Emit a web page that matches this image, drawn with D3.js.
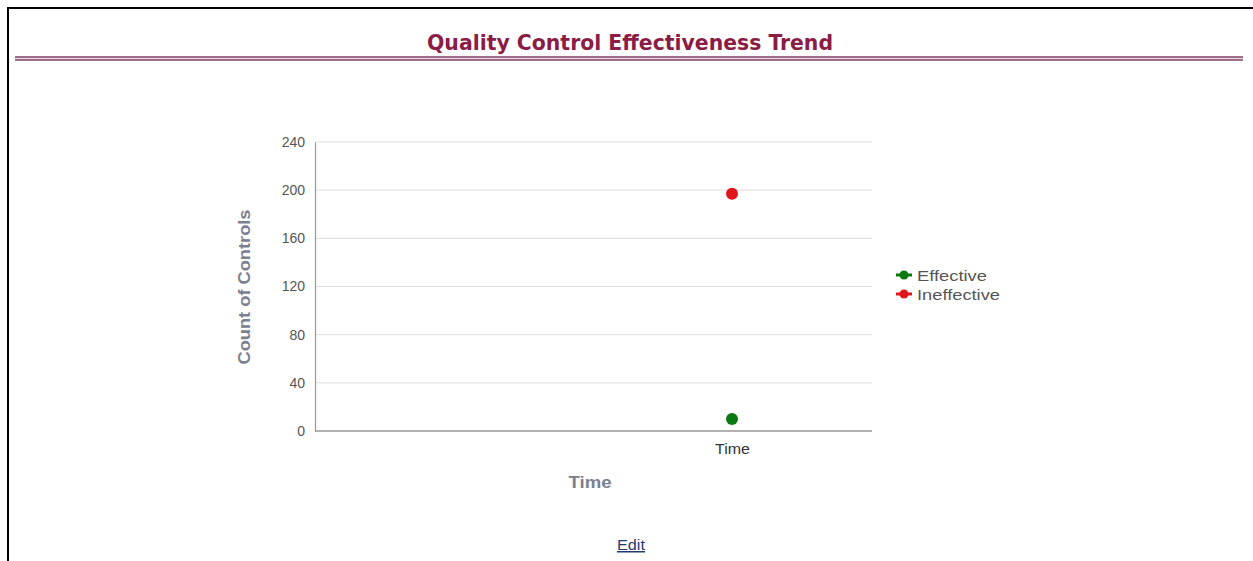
<!DOCTYPE html>
<html>
<head>
<meta charset="utf-8">
<script src="https://cdn.jsdelivr.net/npm/d3@7"></script>
<style>
  html, body { margin: 0; padding: 0; background: #fff; }
  svg { display: block; }
</style>
</head>
<body>
<svg id="chart" width="1253" height="561"></svg>
<script>
const categories = ["Time"];
const seriesNames = ["Effective", "Ineffective"];
const effectiveValues = [10];
const ineffectiveValues = [197];
const yTicks = [0, 40, 80, 120, 160, 200, 240];
const seriesColors = ["#0b7a12", "#e0161c"];

const svg = d3.select("#chart");
const W = 1253, H = 561;
const FONT = "Arial, 'Liberation Sans', sans-serif";

// frame
svg.append("line").attr("x1", 7).attr("x2", W).attr("y1", 8).attr("y2", 8)
  .attr("stroke", "#000").attr("stroke-width", 2);
svg.append("line").attr("x1", 8).attr("x2", 8).attr("y1", 7).attr("y2", H)
  .attr("stroke", "#000").attr("stroke-width", 2);

// title
svg.append("text").attr("x", 630).attr("y", 50)
  .attr("text-anchor", "middle")
  .attr("font-family", "'Liberation Sans Narrow', 'DejaVu Sans Condensed', Arial, sans-serif")
  .attr("font-weight", "bold").attr("font-size", 22)
  .attr("fill", "#8a1c45")
  .attr("textLength", 406).attr("lengthAdjust", "spacingAndGlyphs")
  .text("Quality Control Effectiveness Trend");

// double rule under title
svg.append("rect").attr("x", 15).attr("y", 56.5).attr("width", 1228).attr("height", 4)
  .attr("fill", "#f2d6e2");
svg.append("line").attr("x1", 15).attr("x2", 1243).attr("y1", 57).attr("y2", 57)
  .attr("stroke", "#7f4a6a").attr("stroke-width", 1.3);
svg.append("line").attr("x1", 15).attr("x2", 1243).attr("y1", 60).attr("y2", 60)
  .attr("stroke", "#7f4a6a").attr("stroke-width", 1.3);

// scales
const plotLeft = 315, plotRight = 872, plotTop = 142, plotBottom = 431;
const y = d3.scaleLinear().domain([0, 240]).range([plotBottom, plotTop]);
const x = d3.scalePoint().domain(categories).range([592, plotRight]);

// gridlines
svg.append("g").selectAll("line").data(yTicks.filter(d => d > 0)).join("line")
  .attr("x1", plotLeft).attr("x2", plotRight)
  .attr("y1", d => y(d)).attr("y2", d => y(d))
  .attr("stroke", "#dddddd").attr("stroke-width", 1);

// y axis
const yAxis = d3.axisLeft(y).tickValues(yTicks).tickSize(0).tickPadding(10);
const gy = svg.append("g").attr("transform", `translate(${plotLeft},0)`).call(yAxis);
gy.select(".domain").attr("stroke", "#999").attr("stroke-width", 1.2);
gy.selectAll("text").attr("font-family", FONT)
  .attr("font-size", 14).attr("fill", "#555");

// x axis
const xAxis = d3.axisBottom(x).tickSize(0).tickPadding(13);
const gx = svg.append("g").attr("transform", `translate(0,${plotBottom})`).call(xAxis);
gx.select(".domain").remove();
gx.append("line").attr("x1", plotLeft).attr("x2", plotRight).attr("y1", 0).attr("y2", 0)
  .attr("stroke", "#999").attr("stroke-width", 1.5);
gx.selectAll("text").attr("font-family", FONT)
  .attr("font-size", 14).attr("fill", "#333")
  .attr("textLength", 35).attr("lengthAdjust", "spacingAndGlyphs");

// axis titles
svg.append("text").attr("x", 590).attr("y", 488).attr("text-anchor", "middle")
  .attr("font-family", FONT)
  .attr("font-weight", "bold").attr("font-size", 17).attr("fill", "#7b8090")
  .attr("textLength", 43).attr("lengthAdjust", "spacingAndGlyphs")
  .text("Time");
svg.append("text")
  .attr("transform", "translate(250,287) rotate(-90)")
  .attr("text-anchor", "middle")
  .attr("font-family", FONT)
  .attr("font-weight", "bold").attr("font-size", 17).attr("fill", "#7b8090")
  .attr("textLength", 155).attr("lengthAdjust", "spacingAndGlyphs")
  .text("Count of Controls");

// points
const series = [effectiveValues, ineffectiveValues];
series.forEach((vals, i) => {
  svg.append("g").selectAll("circle").data(vals).join("circle")
    .attr("cx", (d, j) => x(categories[j]))
    .attr("cy", d => y(d))
    .attr("r", 6)
    .attr("fill", seriesColors[i]);
});

// legend
const legendLens = [70, 83];
const lg = svg.append("g").attr("transform", "translate(904,275)");
seriesNames.forEach((name, i) => {
  const g = lg.append("g").attr("transform", `translate(0,${i * 19})`);
  g.append("line").attr("x1", -8).attr("x2", 8).attr("y1", 0).attr("y2", 0)
    .attr("stroke", seriesColors[i]).attr("stroke-width", 3);
  g.append("circle").attr("r", 4.5).attr("fill", seriesColors[i]);
  g.append("text").attr("x", 13).attr("y", 5.5)
    .attr("font-family", FONT)
    .attr("font-size", 15).attr("fill", "#555")
    .attr("textLength", legendLens[i]).attr("lengthAdjust", "spacingAndGlyphs")
    .text(name);
});

// edit link
svg.append("text").attr("x", 631).attr("y", 550).attr("text-anchor", "middle")
  .attr("font-family", FONT)
  .attr("font-size", 15).attr("fill", "#1f3b72")
  .attr("text-decoration", "underline")
  .attr("textLength", 28).attr("lengthAdjust", "spacingAndGlyphs")
  .text("Edit");
</script>
</body>
</html>
